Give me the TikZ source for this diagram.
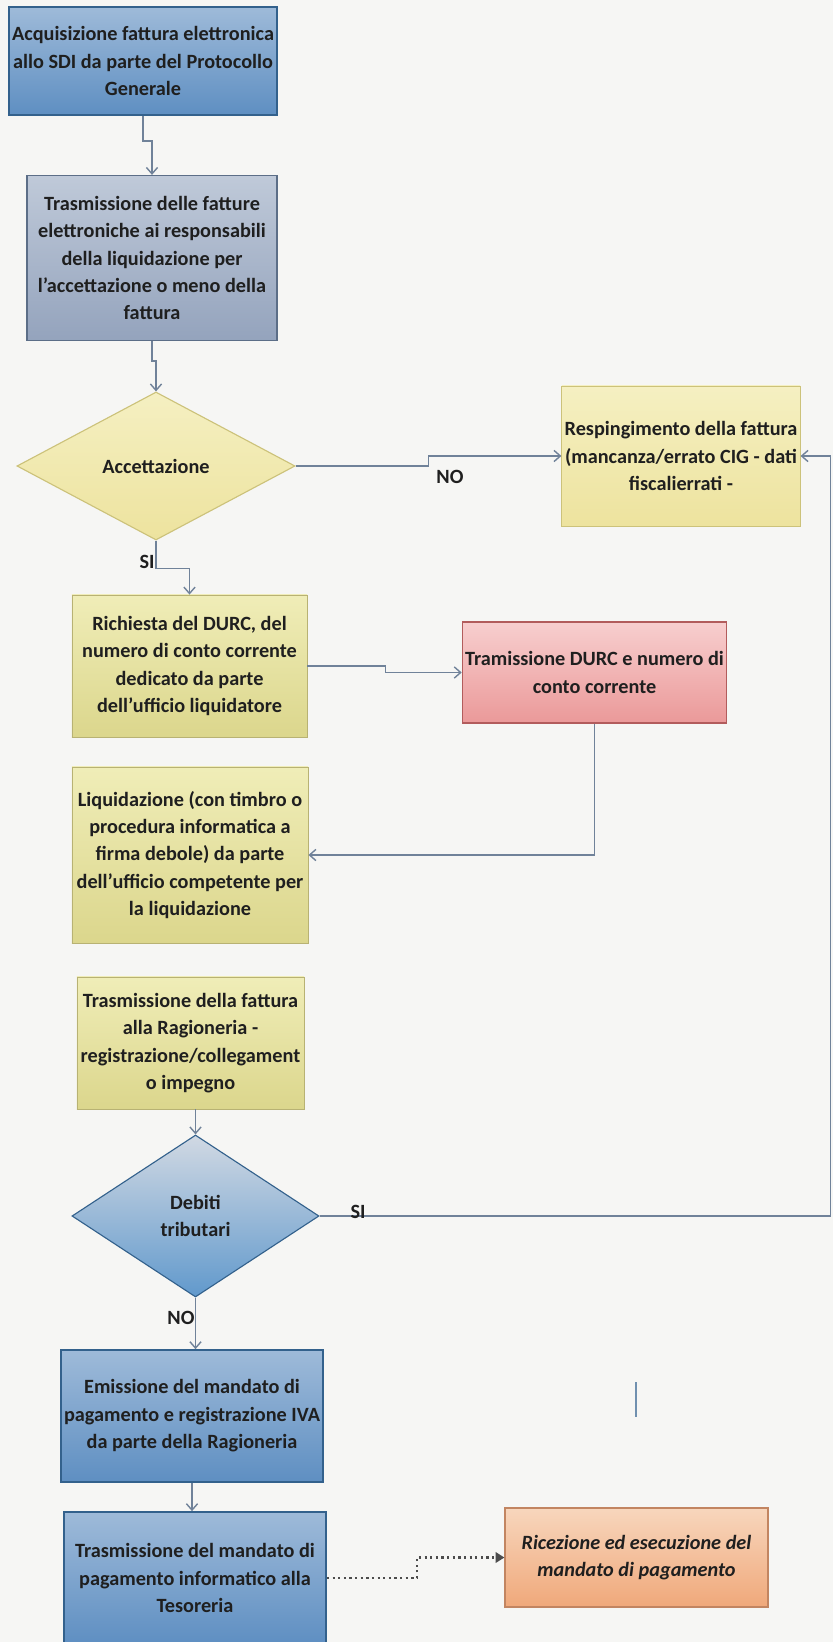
\documentclass[tikz,border=0pt]{standalone}
\usepackage{fontspec}
\setmainfont{Carlito}
\usetikzlibrary{shapes.geometric,arrows.meta}
\definecolor{bgc}{rgb}{0.965, 0.965, 0.955}
\definecolor{blutop}{rgb}{0.62, 0.73, 0.85}
\definecolor{blubot}{rgb}{0.37, 0.56, 0.76}
\definecolor{bluline}{rgb}{0.20, 0.38, 0.55}
\definecolor{grytop}{rgb}{0.75, 0.79, 0.85}
\definecolor{grybot}{rgb}{0.58, 0.64, 0.74}
\definecolor{gryline}{rgb}{0.36, 0.43, 0.53}
\definecolor{ylwtop}{rgb}{0.94, 0.93, 0.72}
\definecolor{ylwbot}{rgb}{0.86, 0.84, 0.55}
\definecolor{ylwline}{rgb}{0.72, 0.70, 0.45}
\definecolor{paletop}{rgb}{0.96, 0.94, 0.76}
\definecolor{palebot}{rgb}{0.93, 0.89, 0.62}
\definecolor{paleline}{rgb}{0.80, 0.76, 0.48}
\definecolor{redtop}{rgb}{0.97, 0.81, 0.81}
\definecolor{redbot}{rgb}{0.92, 0.60, 0.60}
\definecolor{redline}{rgb}{0.70, 0.36, 0.36}
\definecolor{orgtop}{rgb}{0.97, 0.84, 0.74}
\definecolor{orgbot}{rgb}{0.94, 0.66, 0.48}
\definecolor{orgline}{rgb}{0.76, 0.52, 0.38}
\definecolor{debtop}{rgb}{0.82, 0.85, 0.89}
\definecolor{debbot}{rgb}{0.38, 0.60, 0.80}
\definecolor{lnk}{rgb}{0.44, 0.51, 0.60}

\begin{document}
\begin{tikzpicture}[x=0.025cm, y=-0.025cm,
					every node/.style = {align=center, text=black!88,
						font=\fontsize{14.4pt}{19.5pt}\selectfont\bfseries},
					box/.style = {shape=rectangle, draw, inner sep=2pt},
					blubox/.style = {box, draw=bluline, line width=1.2pt, top color=blutop, bottom color=blubot},
					grybox/.style = {box, draw=gryline, line width=0.8pt, top color=grytop, bottom color=grybot},
					ylwbox/.style = {box, draw=ylwline, line width=0.6pt, top color=ylwtop, bottom color=ylwbot},
					palebox/.style = {box, draw=paleline, line width=0.6pt, top color=paletop, bottom color=palebot},
					redbox/.style = {box, draw=redline, line width=0.8pt, top color=redtop, bottom color=redbot},
					orgbox/.style = {box, draw=orgline, line width=0.8pt, top color=orgtop, bottom color=orgbot},
					choice/.style = {shape=diamond, draw, inner sep=0pt, line width=0.8pt},
					link/.style = {draw=lnk, line width=1pt, -{Straight Barb[length=1.6mm,width=2.8mm]}},
					dotlink/.style = {draw=black!70, line width=1.6pt, dash pattern=on 1.6pt off 2.4pt,
						-{Triangle[length=2.2mm,width=2.6mm]}},
					lbl/.style = {inner sep=0pt}]
	\fill[bgc] (0,0) rectangle (833,1642);
	\useasboundingbox (0,0) rectangle (833,1642);
	\node[blubox, minimum width=6.65cm, minimum height=2.7cm] (acq) at (143,61)
		{Acquisizione fattura elettronica\\allo SDI da parte del Protocollo\\Generale};
	\node[grybox, minimum width=6.25cm, minimum height=4.125cm] (tras) at (152,258)
		{Trasmissione delle fatture\\elettroniche ai responsabili\\della liquidazione per\\l'accettazione o meno della\\fattura};
	\node[choice, draw=paleline, top color=paletop, bottom color=palebot,
		minimum width=6.95cm, minimum height=3.7cm] (acc) at (156,466) {Accettazione};
	\node[palebox, minimum width=5.925cm, minimum height=3.5cm] (resp) at (681,456)
		{Respingimento della fattura\\(mancanza/errato CIG - dati\\fiscalierrati -};
	\node[ylwbox, minimum width=5.875cm, minimum height=3.55cm] (rich) at (189.5,666)
		{Richiesta del DURC, del\\numero di conto corrente\\dedicato da parte\\dell'ufficio liquidatore};
	\node[redbox, minimum width=6.575cm, minimum height=2.525cm] (durc) at (594.5,672.5)
		{Tramissione DURC e numero di\\conto corrente};
	\node[ylwbox, minimum width=5.9cm, minimum height=4.4cm] (liq) at (190,855)
		{Liquidazione (con timbro o\\procedura informatica a\\firma debole) da parte\\dell'ufficio competente per\\la liquidazione};
	\node[ylwbox, minimum width=5.675cm, minimum height=3.3cm] (regi) at (190.5,1043)
		{Trasmissione della fattura\\alla Ragioneria -\\registrazione/collegament\\o impegno};
	\node[choice, draw=bluline, top color=debtop, bottom color=debbot,
		minimum width=6.175cm, minimum height=4.05cm] (deb) at (195.5,1216) {Debiti\\tributari};
	\node[blubox, minimum width=6.55cm, minimum height=3.3cm] (emi) at (192,1416)
		{Emissione del mandato di\\pagamento e registrazione IVA\\da parte della Ragioneria};
	\node[blubox, minimum width=6.55cm, minimum height=3.3cm] (tman) at (195,1578)
		{Trasmissione del mandato di\\pagamento informatico alla\\Tesoreria};
	\node[orgbox, font=\fontsize{14.4pt}{19.5pt}\selectfont\bfseries\itshape,
		minimum width=6.575cm, minimum height=2.475cm] (ric) at (636.5,1557.5)
		{Ricezione ed esecuzione del\\mandato di pagamento};
	\draw[link] (acq.south) -- ++(0,25) -| (tras.north);
	\draw[link] (tras.south) -- ++(0,20) -| (acc.north);
	\draw[link] (acc.east) -- ++(133,0) |- (resp.west);
	\draw[link] (acc.south) -- ++(0,28) -| (rich.north);
	\draw[link] (rich.east) -- ++(78,0) |- (durc.west);
	\draw[link] (durc.south) |- (liq.east);
	\draw[link] (regi.south -| deb.north) -- (deb.north);
	\draw[link] (deb.east) -- ++(511,0) |- (resp.east);
	\draw[link] (deb.south) -- (deb.south |- emi.north);
	\draw[link] (emi.south) -- (emi.south |- tman.north);
	\draw[dotlink] (tman.east) -- ++(90,0) |- (ric.west);
	\node[lbl] (no1) at (450,477) {NO};
	\node[lbl] (si1) at (147,562) {SI};
	\node[lbl] (si2) at (358,1212) {SI};
	\node[lbl] (no2) at (181,1318) {NO};
	\draw[draw=bluline!70, line width=1pt] (636,1382) -- (636,1417);
\end{tikzpicture}
\end{document}
